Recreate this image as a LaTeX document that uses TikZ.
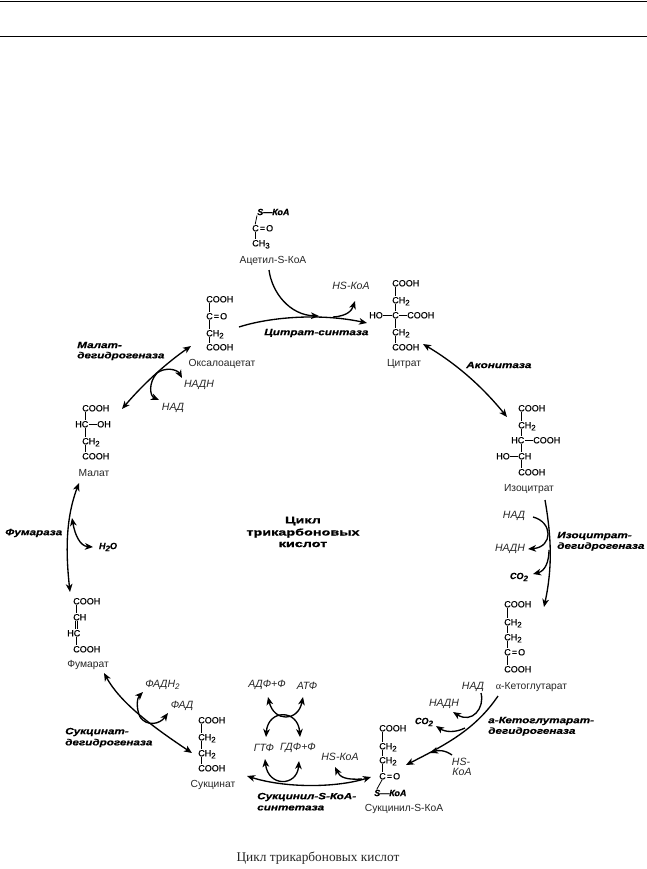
\documentclass[tikz,border=0pt]{standalone}
\usepackage{fontspec}
\setmainfont{Liberation Sans}
\newfontfamily\capf{Liberation Serif}
\newfontfamily\enzf[FakeStretch=1.3,FakeBold=0.6]{Liberation Sans}
\newfontfamily\ctrf[FakeStretch=1.5,FakeBold=1]{Liberation Sans}
\newfontfamily\chemf[FakeBold=0.35]{Liberation Sans}
\usetikzlibrary{arrows.meta}
\newcommand{\sbn}[1]{\raisebox{-1.6pt}{\fontsize{6}{6}\selectfont #1}}
\newcommand{\CO}{C\kern.8pt=\kern.8pt O}
\newcommand{\bondv}[2]{\draw[bond] ([xshift=2.4pt]#1.south west) -- ([xshift=2.4pt]#2.north west);}
\tikzset{
  chem/.style={anchor=west,inner sep=0pt,text height=5pt,text depth=0pt,font=\chemf\fontsize{6.75}{8}\selectfont},
  chemlab/.style={inner sep=0pt,text=black!85,font=\fontsize{7.7}{9}\selectfont},
  reag/.style={inner sep=0pt,text=black!85,font=\itshape\fontsize{7.9}{9}\selectfont},
  reagb/.style={inner sep=0pt,font=\chemf\bfseries\itshape\fontsize{6.75}{8}\selectfont},
  enz/.style={anchor=west,inner sep=0pt,font=\enzf\bfseries\itshape\fontsize{6.75}{8}\selectfont},
  ctr/.style={inner sep=0pt,font=\ctrf\bfseries\fontsize{7.2}{8}\selectfont},
  bond/.style={line width=0.6pt},
  rule/.style={line width=0.75pt},
  rxn/.style={line width=1pt,-{Stealth[length=6pt,width=5pt,inset=1.7pt]}},
  rxnb/.style={line width=1pt,{Stealth[length=6pt,width=5pt,inset=1.7pt]}-{Stealth[length=6pt,width=5pt,inset=1.7pt]}},
}
\begin{document}
\begin{tikzpicture}[x=0.75pt,y=-0.75pt]
\useasboundingbox (0,0) rectangle (647,869);
\fill[white] (0,0) rectangle (647,869);
% page rules
\coordinate (r1a) at (0,1); \coordinate (r1b) at (647,1);
\coordinate (r2a) at (0,36.5); \coordinate (r2b) at (647,36.5);
\draw[rule] (r1a) -- (r1b);
\draw[rule] (r2a) -- (r2b);

% Acetyl-S-CoA
\node[reagb,anchor=west] (ac1) at (257,212) {S—КоА};
\node[chem] (ac2) at (252,228) {\CO};
\node[chem] (ac3) at (252,243) {CH\sbn{3}};
\node[chemlab] (acl) at (273,261) {Ацетил-S-КоА};
\draw[bond] (ac1.south west) -- ([xshift=2.4pt]ac2.north west);
\bondv{ac2}{ac3}

% Oxaloacetate
\node[chem] (oa1) at (206,299) {COOH};
\node[chem] (oa2) at (206,316) {\CO};
\node[chem] (oa3) at (206,333) {CH\sbn{2}};
\node[chem] (oa4) at (206,347) {COOH};
\node[chemlab] (oal) at (222,364) {Оксалоацетат};
\bondv{oa1}{oa2}\bondv{oa2}{oa3}\bondv{oa3}{oa4}

% Citrate
\node[chem] (ci1) at (392,283) {COOH};
\node[chem] (ci2) at (392,300) {CH\sbn{2}};
\node[chem] (ci3) at (392,315) {C};
\node[chem] (ci3a) at (369,315) {HO};
\node[chem] (ci3b) at (407,315) {COOH};
\node[chem] (ci4) at (392,332) {CH\sbn{2}};
\node[chem] (ci5) at (392,347) {COOH};
\node[chemlab] (cil) at (404,364) {Цитрат};
\bondv{ci1}{ci2}\bondv{ci2}{ci3}\bondv{ci3}{ci4}\bondv{ci4}{ci5}
\draw[bond] (ci3a.east) -- (ci3.west);
\draw[bond] (ci3.east) -- (ci3b.west);

% Isocitrate
\node[chem] (ic1) at (518,408) {COOH};
\node[chem] (ic2) at (518,425) {CH\sbn{2}};
\node[chem] (ic3) at (511,440) {HC};
\node[chem] (ic3b) at (533,440) {COOH};
\node[chem] (ic4) at (518,456) {CH};
\node[chem] (ic4a) at (496,456) {HO};
\node[chem] (ic5) at (518,472) {COOH};
\node[chemlab] (icl) at (529,489) {Изоцитрат};
\bondv{ic1}{ic2}
\draw[bond] ([xshift=2.4pt]ic2.south west) -- ([xshift=7.65pt]ic3.north west);
\draw[bond] ([xshift=7.65pt]ic3.south west) -- ([xshift=2.4pt]ic4.north west);
\bondv{ic4}{ic5}
\draw[bond] (ic3.east) -- (ic3b.west);
\draw[bond] (ic4a.east) -- (ic4.west);

% alpha-Ketoglutarate
\node[chem] (kg1) at (504,604) {COOH};
\node[chem] (kg2) at (504,622) {CH\sbn{2}};
\node[chem] (kg3) at (504,637) {CH\sbn{2}};
\node[chem] (kg4) at (504,652) {\CO};
\node[chem] (kg5) at (504,669) {COOH};
\node[chemlab] (kgl) at (531.5,687) {{\capf α}-Кетоглутарат};
\bondv{kg1}{kg2}\bondv{kg2}{kg3}\bondv{kg3}{kg4}\bondv{kg4}{kg5}

% Succinyl-S-CoA
\node[chem] (sc1) at (379,728) {COOH};
\node[chem] (sc2) at (379,746) {CH\sbn{2}};
\node[chem] (sc3) at (379,760) {CH\sbn{2}};
\node[chem] (sc4) at (379,776) {\CO};
\node[reagb,anchor=west] (sc5) at (374,793) {S—КоА};
\node[chemlab] (scl) at (404,809) {Сукцинил-S-КоА};
\bondv{sc1}{sc2}\bondv{sc2}{sc3}\bondv{sc3}{sc4}
\draw[bond] ([xshift=2.4pt]sc4.south west) -- ([xshift=2pt]sc5.north west);

% Succinate
\node[chem] (su1) at (198,720) {COOH};
\node[chem] (su2) at (198,737) {CH\sbn{2}};
\node[chem] (su3) at (198,753) {CH\sbn{2}};
\node[chem] (su4) at (198,768) {COOH};
\node[chemlab] (sul) at (213,785) {Сукцинат};
\bondv{su1}{su2}\bondv{su2}{su3}\bondv{su3}{su4}

% Fumarate
\node[chem] (fu1) at (73,601) {COOH};
\node[chem] (fu2) at (73,617) {CH};
\node[chem] (fu3) at (67,633) {HC};
\node[chem] (fu4) at (73,649) {COOH};
\node[chemlab] (ful) at (88,665) {Фумарат};
\bondv{fu1}{fu2}
\draw[bond] ([xshift=1.6pt]fu2.south west) -- ([xshift=1.6pt,yshift=0.3pt]fu2.south west |- fu3.north);
\draw[bond] ([xshift=3.2pt]fu2.south west) -- ([xshift=3.2pt,yshift=0.3pt]fu2.south west |- fu3.north);
\draw[bond] ([xshift=6.9pt]fu3.south west) -- ([xshift=2.4pt]fu4.north west);

% Malate
\node[chem] (ma1) at (82,408) {COOH};
\node[chem] (ma2) at (75,424) {HC};
\node[chem] (ma2b) at (97,424) {OH};
\node[chem] (ma3) at (82,441) {CH\sbn{2}};
\node[chem] (ma4) at (82,456) {COOH};
\node[chemlab] (mal) at (94,473) {Малат};
\draw[bond] ([xshift=2.4pt]ma1.south west) -- ([xshift=7.65pt]ma2.north west);
\draw[bond] ([xshift=7.65pt]ma2.south west) -- ([xshift=2.4pt]ma3.north west);
\bondv{ma3}{ma4}
\draw[bond] (ma2.east) -- (ma2b.west);

% Enzymes
\node[enz] (e1) at (264,333) {Цитрат-синтаза};
\node[enz] (e2) at (466,365) {Аконитаза};
\node[enz] (e3a) at (557,536) {Изоцитрат-};
\node[enz] (e3b) at (557,546.5) {дегидрогеназа};
\node[enz] (e4a) at (488,721) {а-Кетоглутарат-};
\node[enz] (e4b) at (488,731.5) {дегидрогеназа};
\node[enz] (e5a) at (257,797) {Сукцинил-S-КоА-};
\node[enz] (e5b) at (257,808) {синтетаза};
\node[enz] (e6a) at (65,732) {Сукцинат-};
\node[enz] (e6b) at (65,743) {дегидрогеназа};
\node[enz] (e7) at (5,533) {Фумараза};
\node[enz] (e8a) at (77,345) {Малат-};
\node[enz] (e8b) at (77,356) {дегидрогеназа};

% Centre title
\node[ctr] (t1) at (303,521) {Цикл};
\node[ctr] (t2) at (303,533) {трикарбоновых};
\node[ctr] (t3) at (303,544.5) {кислот};

% Caption
\node[inner sep=0pt,text=black!85,font=\capf\fontsize{10}{12}\selectfont] (cap) at (318,858) {Цикл трикарбоновых кислот};

% Reagents
\node[reag] (r1) at (351,286) {HS-КоА};
\node[reag] (r2) at (514,516) {НАД};
\node[reag] (r3) at (510,549) {НАДН};
\node[reagb] (r4) at (519,577) {CO\sbn{2}};
\node[reag] (r5) at (473,687) {НАД};
\node[reag] (r6) at (444,704) {НАДН};
\node[reagb] (r7) at (424,722) {CO\sbn{2}};
\node[reag] (r8) at (461,762) {HS-};
\node[reag] (r9) at (462,772) {КоА};
\node[reag] (r10) at (340,757) {HS-КоА};
\node[reag] (r11) at (267,685) {АДФ+Ф};
\node[reag] (r12) at (307,686) {АТФ};
\node[reag] (r13) at (264,748) {ГТФ};
\node[reag] (r14) at (298,748) {ГДФ+Ф};
\node[reag,anchor=west] (r15) at (145,685) {ФАДН\sbn{2}};
\node[reag] (r16) at (182,706) {ФАД};
\node[reagb] (r17) at (108,547) {H\sbn{2}O};
\node[reag] (r18) at (199,385) {НАДН};
\node[reag] (r19) at (173,408) {НАД};

% Connector end points
\coordinate (p1s) at (239,327); \coordinate (p1e) at (367,323); \coordinate (p1b) at (333,317);
\coordinate (p1h) at (355,301);
\coordinate (p2s) at (269,270); \coordinate (p2e) at (319,316);
\coordinate (p3s) at (423,344); \coordinate (p3e) at (507,417);
\coordinate (p4s) at (545,500); \coordinate (p4e) at (544,607);
\coordinate (p4a) at (533,517); \coordinate (p4b) at (528,549);
\coordinate (p4c) at (549,550); \coordinate (p4d) at (533,574);
\coordinate (p5s) at (498,696); \coordinate (p5e) at (406,765);
\coordinate (p5a) at (481,693); \coordinate (p5b) at (453,712);
\coordinate (p5c) at (465,728); \coordinate (p5d) at (436,726);
\coordinate (p5f) at (452,755); \coordinate (p5g) at (430,753);
\coordinate (p6s) at (247,776); \coordinate (p6e) at (371,777);
\coordinate (p6a) at (362,779); \coordinate (p6b) at (335,767);
\coordinate (p7a) at (265,759); \coordinate (p7b) at (299,761);
\coordinate (p7c) at (266,737); \coordinate (p7d) at (300,737);
\coordinate (p7e) at (268,697); \coordinate (p7f) at (303,697);
\coordinate (p8s) at (104,673); \coordinate (p8e) at (192,753);
\coordinate (p8a) at (140,717); \coordinate (p8b) at (143,692); \coordinate (p8c) at (168,713);
\coordinate (p9s) at (79,483); \coordinate (p9e) at (70,592);
\coordinate (p9a) at (72,518); \coordinate (p9b) at (93,547);
\coordinate (p10s) at (191,346); \coordinate (p10e) at (122,409);
\coordinate (p10a) at (157,373); \coordinate (p10b) at (182,378); \coordinate (p10c) at (159,400);

% Connectors
\draw[rxn] (p1s) .. controls (270,317) and (320,313) .. (p1e);
\draw[rxn] (p1b) .. controls (348,316) and (352,310) .. (p1h);
\draw[rxn] (p2s) .. controls (272,293) and (290,315) .. (p2e);
\draw[rxnb] (p3s) .. controls (460,366) and (485,390) .. (p3e);
\draw[rxn] (p4s) .. controls (552,540) and (552,570) .. (p4e);
\draw[rxn] (p4a) .. controls (553,522) and (553,547) .. (p4b);
\draw[rxn] (p4c) .. controls (549,562) and (545,571) .. (p4d);
\draw[rxn] (p5s) .. controls (475,730) and (445,745) .. (p5e);
\draw[rxn] (p5a) .. controls (485,708) and (472,724) .. (p5b);
\draw[rxn] (p5c) .. controls (455,733) and (445,732) .. (p5d);
\draw[rxn] (p5f) .. controls (445,750) and (438,750) .. (p5g);
\draw[rxnb] (p6s) .. controls (285,788) and (335,788) .. (p6e);
\draw[rxn] (p6a) .. controls (345,780) and (340,777) .. (p6b);
\draw[rxnb] (p7a) .. controls (268,787) and (297,787) .. (p7b);
\draw[rxnb] (p7c) .. controls (268,709) and (298,709) .. (p7d);
\draw[rxnb] (p7e) .. controls (274,722) and (298,722) .. (p7f);
\draw[rxnb] (p8s) .. controls (120,702) and (150,725) .. (p8e);
\draw[rxn] (p8a) .. controls (136,708) and (137,698) .. (p8b);
\draw[rxn] (p8a) .. controls (147,727) and (160,724) .. (p8c);
\draw[rxnb] (p9s) .. controls (65,520) and (66,555) .. (p9e);
\draw[rxnb] (p9a) .. controls (75,535) and (80,546) .. (p9b);
\draw[rxnb] (p10s) .. controls (168,362) and (145,382) .. (p10e);
\draw[rxn] (p10a) .. controls (165,367) and (177,369) .. (p10b);
\draw[rxn] (p10a) .. controls (148,383) and (150,396) .. (p10c);
\end{tikzpicture}
\end{document}
